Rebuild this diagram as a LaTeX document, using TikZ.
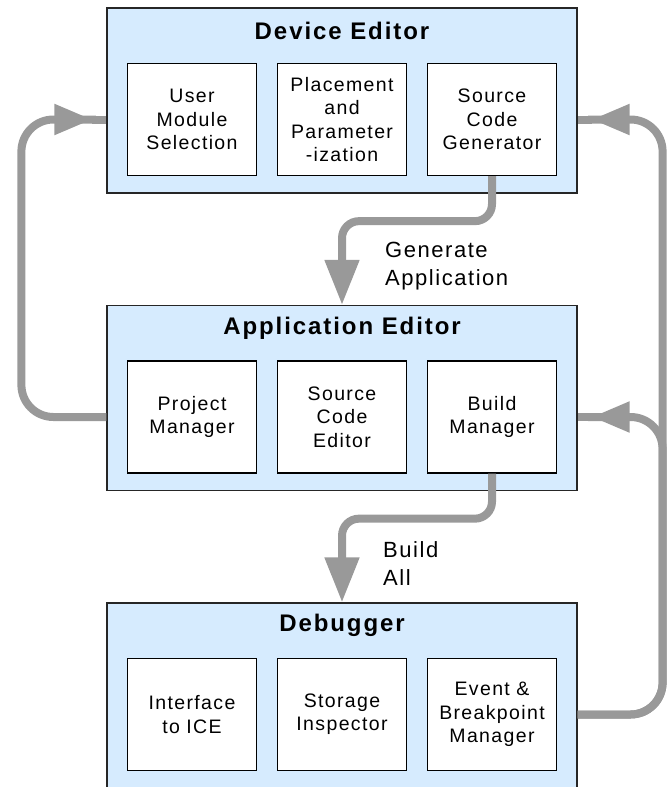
\documentclass[tikz,border=0pt]{standalone}
\usepackage{fontspec}
\usepackage{tikz}
\usetikzlibrary{positioning, arrows.meta, shapes}
\newfontfamily\diagfont[LetterSpace=7]{Liberation Sans}
\newfontfamily\headfont[LetterSpace=8]{Liberation Sans}
\definecolor{panelblue}{HTML}{D6EBFE}
\definecolor{pipegray}{HTML}{999999}

\begin{document}
\begin{tikzpicture}[node distance=297.5pt, x=1pt, y=1pt]
    % Define styles
    \tikzstyle{panel} = [rectangle, draw=black!85, line width=1.2pt, fill=panelblue, minimum width=470pt, minimum height=185pt]
    \tikzstyle{heading} = [inner sep=0pt, font=\headfont\bfseries\fontsize{24}{28}\selectfont]
    \tikzstyle{module} = [rectangle, draw, line width=1.3pt, fill=white, minimum width=129pt, minimum height=112pt, text width=125pt, align=center, inner sep=0pt, font=\diagfont\fontsize{19.5}{23.3}\selectfont]
    \tikzstyle{note} = [anchor=west, align=left, inner sep=0pt, font=\diagfont\fontsize{22}{27.5}\selectfont]
    \tikzstyle{flow} = [pipegray, line width=8pt, rounded corners=17pt, -{Triangle[length=45pt, width=33pt]}]
    \tikzstyle{feedback} = [pipegray, line width=8pt, rounded corners=32pt, -{Triangle[length=38pt, width=29pt, sep=0pt] Rectangle[length=14pt, width=8pt, sep=0pt]}]

    \useasboundingbox (0,0) rectangle (671,-787);

    % Panels
    \node [panel] (device) at (342,-100.5) {};
    \node [panel, below of=device] (app) {};
    \node [panel, below of=app] (debugger) {};

    % Headings
    \node [heading] (devtitle) at ([yshift=-24pt]device.north) {Device Editor};
    \node [heading] (apptitle) at ([yshift=-23pt]app.north) {Application Editor};
    \node [heading] (dbgtitle) at ([yshift=-23pt]debugger.north) {Debugger};

    % Device Editor modules
    \node [module, node distance=19pt, below of=device] (place) {Placement\\and\\Parameter\\-ization};
    \node [module, node distance=150pt, left of=place] (select) {User\\Module\\Selection};
    \node [module, node distance=150pt, right of=place] (srcgen) {Source\\Code\\Generator};

    % Application Editor modules
    \node [module, node distance=19pt, below of=app] (srcedit) {Source\\Code\\Editor};
    \node [module, node distance=150pt, left of=srcedit] (project) {Project\\Manager};
    \node [module, node distance=150pt, right of=srcedit] (build) {Build\\Manager};

    % Debugger modules
    \node [module, node distance=19pt, below of=debugger] (storage) {Storage\\Inspector};
    \node [module, node distance=150pt, left of=storage] (ice) {Interface\\to ICE};
    \node [module, node distance=150pt, right of=storage] (event) {Event \&\\Breakpoint\\Manager};

    % Labels
    \node [note] (genlabel) at ([xshift=43pt, yshift=39pt]app.north) {Generate\\Application};
    \node [note] (buildlabel) at ([xshift=41pt, yshift=39pt]debugger.north) {Build\\All};

    % Arrows
    \draw [flow] (srcgen.south) -- ++(0,-45) -| (app.north);
    \draw [flow] (build.south) -- ++(0,-45) -| (debugger.north);
    \draw [feedback] (app.west |- project) -- ++(-85,0) |- (device.west |- select);
    \draw [feedback] (debugger.east |- event) -- ++(85,0) |- (device.east |- srcgen);
    \draw [feedback] (debugger.east |- event) -- ++(85,0) |- (app.east |- build);
\end{tikzpicture}
\end{document}
